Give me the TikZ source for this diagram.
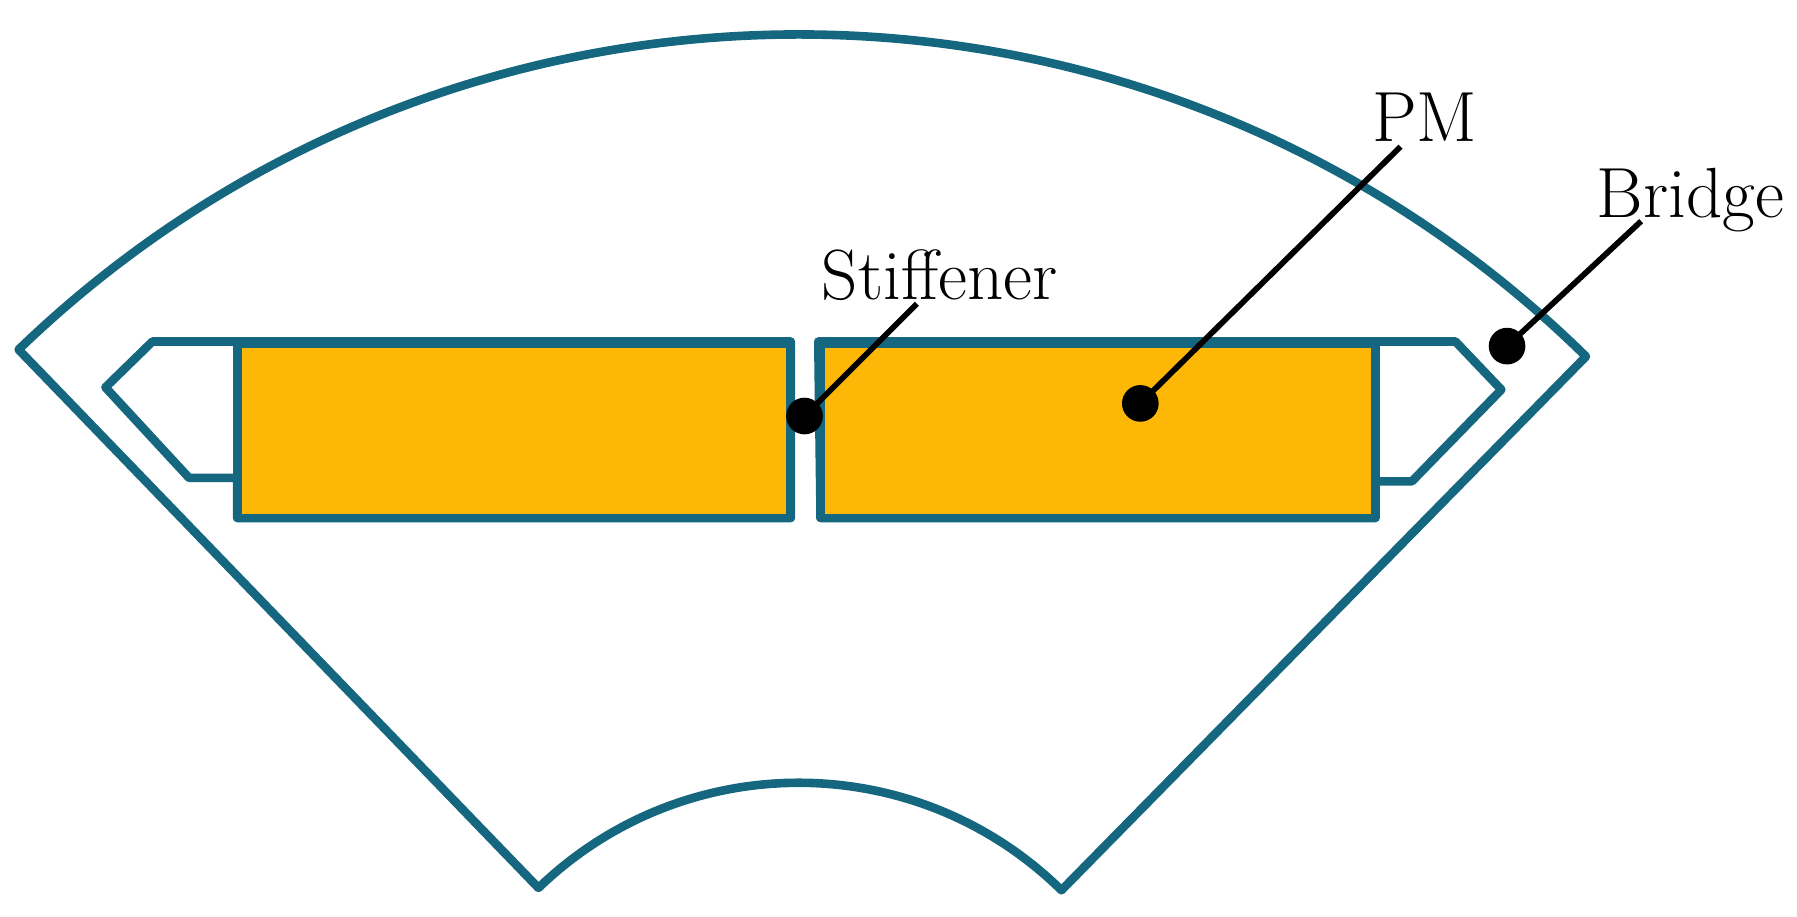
\documentclass[tikz,border=0pt]{standalone}
\usepackage{tikz}
\usetikzlibrary{calc}
\definecolor{steel}{HTML}{15677F}
\definecolor{pmgold}{HTML}{FDB707}
\begin{document}
\begin{tikzpicture}[x=1pt,y=-1pt,
  outline/.style={draw=steel,line width=7.5pt,line join=round},
  magnet/.style={outline,fill=pmgold},
  pin/.style={line width=5pt},
  dot/.style={circle,fill=black,inner sep=0pt,minimum size=32pt},
  label/.style={font=\fontsize{62}{72}\selectfont,inner sep=0pt}]
\useasboundingbox (0,0) rectangle (1568,800);

% Rotor segment
\draw[outline] (697,1010) ++(-134:980) arc[start angle=-134,end angle=-45.5,radius=980]
  -- ($(697,1010)+(-45.5:327)$) arc[start angle=-45.5,end angle=-134,radius=327] -- cycle;

% Slots and magnets
\draw[outline] (133,298) -- (690,298) -- (690,452) -- (207,452) -- (207,417)
  -- (165,417) -- (92,338) -- cycle;
\draw[magnet] (207,300) rectangle (690,452);
\draw[outline] (714,298) -- (1270,298) -- (1310,340) -- (1232,420) -- (1200,420)
  -- (1200,452) -- (716,452) -- cycle;
\draw[magnet] (716,300) rectangle (1200,452);

% Labels
\node[dot] (stiffDot) at (702,363) {};
\node[dot] (pmDot) at (995,352) {};
\node[dot] (bridgeDot) at (1315,302) {};
\node[label] (stiffener) at (820,240) {Stiffener};
\node[label] (pm) at (1243,102) {PM};
\node[label] (bridge) at (1475,175) {Bridge};
\coordinate (stiffEnd) at (800,265);
\coordinate (pmEnd) at (1222,128);
\coordinate (bridgeEnd) at (1432,193);
\draw[pin] (stiffDot.center) -- (stiffEnd);
\draw[pin] (pmDot.center) -- (pmEnd);
\draw[pin] (bridgeDot.center) -- (bridgeEnd);
\end{tikzpicture}
\end{document}
